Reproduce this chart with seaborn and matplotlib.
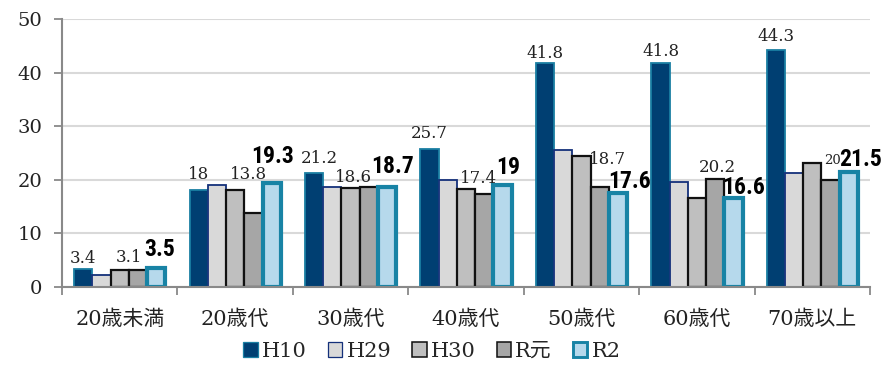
import matplotlib
matplotlib.use("Agg")
import matplotlib.pyplot as plt
import seaborn as sns
import pandas as pd
from matplotlib import font_manager
from matplotlib.patches import Patch

categories = ["20歳未満", "20歳代", "30歳代", "40歳代", "50歳代", "60歳代", "70歳以上"]
series = ["H10", "H29", "H30", "R元", "R2"]
H10 = [3.4, 18.0, 21.2, 25.7, 41.8, 41.8, 44.3]
H29 = [2.2, 19.1, 18.7, 20.0, 25.6, 19.6, 21.3]
H30 = [3.1, 18.0, 18.5, 18.2, 24.5, 16.5, 23.1]
Rgan = [3.1, 13.8, 18.6, 17.4, 18.7, 20.2, 20.0]
R2 = [3.5, 19.3, 18.7, 19.0, 17.6, 16.6, 21.5]
yticks = [0, 10, 20, 30, 40, 50]

# label placement offsets (pixels: dx from bar centre, gap above bar top)
h10_off = [(0, 6), (0, 11), (5, 10), (0, 11), (0, 5), (1, 7), (0, 9)]
rgan_off = [(-9, 8), (-5, 34), (-15, 5), (-6, 11), (8, 23), (2, 7), (2, 16)]
rgan_size = [12, 12, 12, 12, 12, 12, 9.5]
r2_off = [(3, 12), (1, 20), (5, 14), (6, 11), (12, 5), (10, 4), (12, 6)]

values = [H10, H29, H30, Rgan, R2]
rows = []
for s, vals in zip(series, values):
    for c, v in zip(categories, vals):
        rows.append({"cat": c, "series": s, "value": v})
df = pd.DataFrame(rows)

fills = ["#003F72", "#D9D9D9", "#BFBFBF", "#A6A6A6", "#B6D9EC"]
edges = ["#1A7FA3", "#14307A", "#111111", "#111111", "#1883A5"]
lws = [1.3, 1.3, 1.6, 1.6, 3.0]

sns.set_style("white")
serif = ["DejaVu Serif", "Noto Sans CJK JP"]
plt.rcParams["font.family"] = serif

avail = {f.name for f in font_manager.fontManager.ttflist}
narrow = None
for cand in ["Liberation Sans Narrow", "Roboto Condensed", "Open Sans Condensed",
             "DejaVu Sans Condensed", "Arial Narrow"]:
    if cand in avail:
        narrow = cand
        break
if narrow:
    bold_family, bold_size = [narrow], 17
else:
    bold_family, bold_size = ["Liberation Sans"], 15

fig = plt.figure(figsize=(8.87, 3.65), dpi=100)
ax = fig.add_axes([0.0699, 0.214, 0.911, 0.734])

sns.barplot(data=df, x="cat", y="value", hue="series", hue_order=series,
            palette=fills, width=0.79, dodge=True, ax=ax, legend=False,
            saturation=1, errorbar=None)

for i, cont in enumerate(ax.containers):
    for bar in cont:
        bar.set_edgecolor(edges[i])
        bar.set_linewidth(lws[i])

def fmt(v):
    return f"{v:g}"

def put_labels(cont, vals, offs, sizes, **kw):
    for bar, v, (dx, dy), sz in zip(cont, vals, offs, sizes):
        x = bar.get_x() + bar.get_width() / 2
        y = bar.get_height()
        ax.annotate(fmt(v), xy=(x, y), xytext=(dx, dy), textcoords="offset pixels",
                    ha="center", va="baseline", fontsize=sz, **kw)

put_labels(ax.containers[0], H10, h10_off, [12] * 7, color="#222222", family=serif)
put_labels(ax.containers[3], Rgan, rgan_off, rgan_size, color="#222222", family=serif)
put_labels(ax.containers[4], R2, r2_off, [bold_size] * 7, color="#000000",
           family=bold_family, fontweight="bold")

ax.set_ylim(0, 50)
ax.set_yticks(yticks)
ax.set_xlim(-0.5, len(categories) - 0.5)
ax.yaxis.grid(True, color="#D9D9D9", linewidth=1.5)
ax.set_axisbelow(True)
for s in ["top", "right"]:
    ax.spines[s].set_visible(False)
for s in ["left", "bottom"]:
    ax.spines[s].set_color("#898989")
    ax.spines[s].set_linewidth(1.5)
ax.set_xlabel("")
ax.set_ylabel("")

ax.tick_params(axis="y", length=6, width=1.3, color="#898989", labelcolor="#222222",
               labelsize=14, pad=8, left=True)
ax.set_xticks(range(len(categories)))
ax.set_xticklabels(categories)
ax.tick_params(axis="x", which="major", length=0, labelsize=15, pad=16, labelcolor="#222222")
ax.set_xticks([i - 0.5 for i in range(len(categories) + 1)], minor=True)
ax.tick_params(axis="x", which="minor", length=6, width=1.3, color="#898989", bottom=True)

handles = [Patch(facecolor=fills[i], edgecolor=edges[i], linewidth=lws[i] * 0.7)
           for i in range(5)]
fig.legend(handles, series, loc="center", bbox_to_anchor=(0.487, 0.038), ncol=5,
           frameon=False, fontsize=15, handlelength=0.7, handleheight=0.7,
           handletextpad=0.2, columnspacing=1.0, borderpad=0.1)

fig.savefig("out.png", dpi=100)
